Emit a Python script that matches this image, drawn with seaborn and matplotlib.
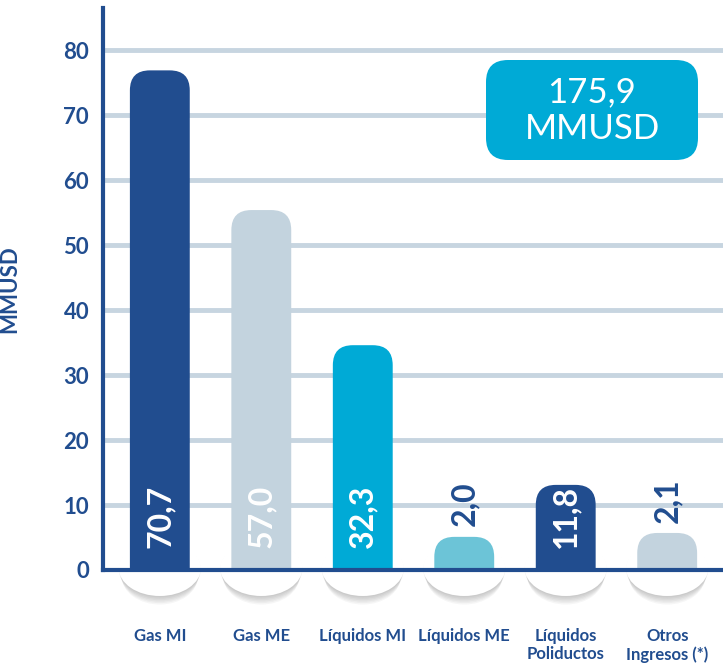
import matplotlib
matplotlib.use("Agg")
import matplotlib.pyplot as plt
from matplotlib.patches import Ellipse, FancyBboxPatch, PathPatch
from matplotlib.path import Path
from matplotlib.transforms import IdentityTransform
import pandas as pd
import seaborn as sns

# Data
categories = ['Gas MI', 'Gas ME', 'Líquidos MI', 'Líquidos ME',
              'Líquidos\nPoliductos', 'Otros\nIngresos (*)']
bar_heights = [76.9, 55.4, 34.6, 5.1, 13.1, 5.7]
value_labels = ['70,7', '57,0', '32,3', '2,0', '11,8', '2,1']
y_ticks = [0, 10, 20, 30, 40, 50, 60, 70, 80]
total_label = ['175,9', 'MMUSD']

# Colours
dark = '#214d8f'
grey = '#c3d3de'
cyan = '#00aad6'
light_cyan = '#6cc4d7'
bar_colors = [dark, grey, cyan, light_cyan, dark, grey]

df = pd.DataFrame({'cat': categories, 'val': bar_heights})

sns.set_style("white")
plt.rcParams['font.family'] = ['Lato', 'DejaVu Sans']

W, H = 723, 665
fig = plt.figure(figsize=(W / 100, H / 100), dpi=100)
ax = fig.add_axes([103 / W, 95 / H, 620 / W, 562 / H])

sns.barplot(data=df, x='cat', y='val', hue='cat', palette=bar_colors,
            saturation=1, width=0.59, legend=False, ax=ax, zorder=3)

ax.set_xlim(-0.56, 5.55)
ax.set_ylim(0, 86.5)

# radius of bar corners, 20 px, in data units
r_px = 20
rx = r_px * (ax.get_xlim()[1] - ax.get_xlim()[0]) / 620
ry = r_px * (ax.get_ylim()[1] - ax.get_ylim()[0]) / 562

# swap rectangles for bars with rounded tops
for p in list(ax.patches):
    x0, w, h = p.get_x(), p.get_width(), p.get_height()
    x1 = x0 + w
    verts = [(x0, 0), (x0, h - ry), (x0, h), (x0 + rx, h),
             (x1 - rx, h), (x1, h), (x1, h - ry), (x1, 0), (x0, 0)]
    codes = [Path.MOVETO, Path.LINETO, Path.CURVE3, Path.CURVE3,
             Path.LINETO, Path.CURVE3, Path.CURVE3, Path.LINETO,
             Path.CLOSEPOLY]
    ax.add_patch(PathPatch(Path(verts, codes), facecolor=p.get_facecolor(),
                           edgecolor='none', zorder=3))
    p.set_visible(False)

    # pedestal ellipse with soft shadow under each bar
    xc = x0 + w / 2
    for k in range(6):
        ax.add_patch(Ellipse((xc, 0.3 - 0.22 * (k + 1)), 0.81 - 0.012 * k,
                             8.6, facecolor='#000000', alpha=0.035,
                             edgecolor='none', zorder=1, clip_on=False))
    ax.add_patch(Ellipse((xc, 0.3), 0.81, 8.6, facecolor='white',
                         edgecolor='none', zorder=1.5, clip_on=False))

# value labels
for i, (h, lab) in enumerate(zip(bar_heights, value_labels)):
    if h > 10:
        ax.text(i, 3.4, lab, rotation=90, ha='center', va='bottom',
                color='white', fontsize=23, fontweight='bold', zorder=4)
    else:
        ax.text(i, h + 1.6, lab, rotation=90, ha='center', va='bottom',
                color=dark, fontsize=23, fontweight='bold', zorder=4)

# axes styling
ax.set_yticks(y_ticks)
ax.yaxis.grid(True, color='#c7d5e0', linewidth=3.5)
ax.set_axisbelow(True)
for s in ['top', 'right']:
    ax.spines[s].set_visible(False)
for s in ['left', 'bottom']:
    ax.spines[s].set_color(dark)
    ax.spines[s].set_linewidth(3)
    ax.spines[s].set_zorder(5)

ax.tick_params(axis='y', length=0, pad=10, labelsize=16,
               labelcolor=dark)
ax.tick_params(axis='x', length=0, pad=42, labelsize=12,
               labelcolor=dark)
for t in ax.get_yticklabels():
    t.set_fontweight('bold')
for t in ax.get_xticklabels():
    t.set_fontweight('bold')
    t.set_linespacing(1.15)

ax.set_xlabel('')
ax.set_ylabel('MMUSD', color=dark, fontsize=16, fontweight='bold')
ax.yaxis.set_label_coords(-0.134, 0.5)

# total box
box = FancyBboxPatch((486, H - 160), 212, 100,
                     boxstyle='round,pad=0,rounding_size=22',
                     facecolor=cyan, edgecolor='none',
                     transform=IdentityTransform(), zorder=6)
fig.patches.append(box)
fig.text(592 / W, 1 - 92 / H, total_label[0], ha='center', va='center',
         color='white', fontsize=25, zorder=7)
fig.text(592 / W, 1 - 129 / H, total_label[1], ha='center', va='center',
         color='white', fontsize=25, zorder=7)

plt.savefig('out.png', dpi=100)
